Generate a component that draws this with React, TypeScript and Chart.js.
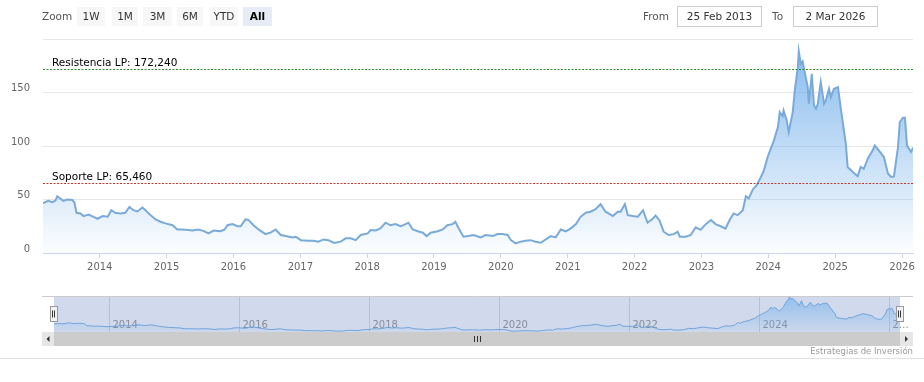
import React, { useEffect, useRef } from 'react';
import { Chart, registerables } from 'chart.js';

Chart.register(...registerables);

// ---- data ----
const dates: string[] = [
  '2013-02-25','2013-03-26','2013-04-17','2013-05-04','2013-05-14','2013-05-30','2013-06-16','2013-07-08','2013-08-05','2013-08-16',
  '2013-08-27','2013-09-18','2013-10-04','2013-11-01','2013-11-28','2013-12-20','2014-01-17','2014-02-14','2014-03-05','2014-03-27',
  '2014-04-24','2014-05-21','2014-06-12','2014-07-04','2014-07-25','2014-08-22','2014-09-08','2014-10-05','2014-11-02','2014-11-29',
  '2014-12-26','2015-02-03','2015-03-01','2015-03-28','2015-04-30','2015-05-22','2015-06-24','2015-07-21','2015-08-18','2015-09-15',
  '2015-10-23','2015-11-14','2015-11-30','2015-12-27','2016-01-24','2016-02-10','2016-03-07','2016-03-23','2016-04-20','2016-05-17',
  '2016-06-25','2016-07-22','2016-08-19','2016-09-16','2016-10-13','2016-11-20','2016-12-07','2017-01-04','2017-02-11','2017-03-13',
  '2017-04-10','2017-05-07','2017-06-04','2017-07-01','2017-07-12','2017-08-09','2017-09-06','2017-10-03','2017-10-30','2017-11-27',
  '2018-01-04','2018-01-20','2018-02-17','2018-03-14','2018-04-11','2018-05-08','2018-06-05','2018-07-02','2018-07-18','2018-08-15',
  '2018-09-07','2018-10-04','2018-11-01','2018-11-22','2018-12-14','2019-01-21','2019-02-18','2019-03-15','2019-04-12','2019-04-28',
  '2019-05-14','2019-06-11','2019-07-08','2019-08-05','2019-09-02','2019-09-13','2019-10-10','2019-11-18','2019-12-14','2020-01-11',
  '2020-02-08','2020-02-25','2020-03-22','2020-04-19','2020-05-15','2020-06-12','2020-07-09','2020-08-06','2020-09-03','2020-09-30',
  '2020-10-27','2020-11-24','2020-12-21','2021-01-18','2021-02-15','2021-03-12','2021-04-09','2021-05-05','2021-06-02','2021-06-29',
  '2021-07-26','2021-08-12','2021-09-04','2021-10-01','2021-10-17','2021-11-09','2021-11-25','2021-12-22','2022-01-19','2022-02-16',
  '2022-03-13','2022-04-10','2022-04-26','2022-05-17','2022-06-09','2022-07-06','2022-08-03','2022-08-24','2022-09-05','2022-10-08',
  '2022-11-04','2022-12-01','2022-12-28','2023-01-25','2023-02-22','2023-03-19','2023-04-16','2023-05-13','2023-06-04','2023-06-26',
  '2023-07-18','2023-08-15','2023-09-01','2023-09-17','2023-10-09','2023-10-30','2023-11-22','2023-12-08','2023-12-29','2024-01-15',
  '2024-02-01','2024-02-23','2024-03-04','2024-03-20','2024-03-25','2024-04-11','2024-04-22','2024-05-14','2024-05-25','2024-06-11',
  '2024-06-16','2024-06-27','2024-07-07','2024-07-13','2024-08-04','2024-08-10','2024-08-26','2024-09-07','2024-09-18','2024-09-28',
  '2024-10-14','2024-11-01','2024-11-11','2024-11-28','2024-12-08','2024-12-25','2025-01-16','2025-02-02','2025-02-28','2025-03-10',
  '2025-04-07','2025-05-04','2025-05-20','2025-06-06','2025-06-28','2025-07-25','2025-08-05','2025-08-27','2025-09-24','2025-10-16',
  '2025-11-02','2025-11-18','2025-12-10','2025-12-20','2026-01-06','2026-01-17','2026-01-28','2026-02-08','2026-02-19','2026-03-02',
];

const prices: number[] = [
  46.6, 48.7, 47.5, 49, 53, 51, 48.7, 50, 49.5, 47,
  37.6, 37, 34.5, 36, 33.8, 32, 34.5, 34, 40, 37.6,
  37, 37.6, 43, 40, 38.8, 42.5, 40, 35.4, 31.4, 29.2,
  27.7, 26, 22, 22, 21.4, 21, 22, 20.7, 18.3, 21,
  20.3, 22, 26, 27, 25, 25, 31.4, 31, 26, 22,
  17.7, 19, 22, 16.8, 15.8, 14.6, 15.2, 12, 11.5, 11.5,
  10.6, 12.7, 12, 9.6, 9.6, 10.6, 13.7, 13.7, 12, 16.8,
  18.3, 21.4, 21, 23, 28.3, 26, 27, 25, 26, 28.3,
  22, 20.3, 19, 15.8, 19, 20.3, 22, 26, 27, 29.2,
  23.6, 15.2, 15.8, 16.8, 15.2, 14.6, 16.8, 15.8, 17.7, 17.7,
  16.8, 12, 9, 10.6, 11.5, 12, 10.6, 9.6, 12.7, 15.8,
  14.6, 22, 20.3, 23, 27, 33.8, 37.6, 38.6, 41, 45.7,
  38.6, 37, 34.5, 38.6, 38.6, 45.7, 35.4, 34.5, 34, 40,
  28.3, 32, 35, 30.4, 19.9, 16.8, 17.6, 19.9, 15.2, 15.2,
  16.8, 24, 21.7, 27, 30.8, 27, 25, 22.7, 30.8, 37,
  35.4, 40, 53, 51, 59.4, 63.4, 71, 77, 89.7, 97.5,
  105, 117.7, 131.7, 128, 133, 124, 113, 131.7, 152, 173.6,
  188.5, 176.8, 179, 173.6, 155, 139.5, 167.5, 138, 134.8, 139.5,
  159.7, 139.5, 142.6, 153.5, 145.7, 153.5, 155, 133.3, 102, 80.4,
  75.8, 71.8, 80.4, 78.7, 88.2, 96, 100.6, 96, 89.7, 74.3,
  71, 71.5, 99, 122.4, 126.5, 126.5, 100.6, 97.5, 94.4, 98.5,
];

const yTicks: number[] = [0, 50, 100, 150, 200];
const yearTicks: number[] = [2014, 2015, 2016, 2017, 2018, 2019, 2020, 2021, 2022, 2023, 2024, 2025, 2026];
const navYears: number[] = [2014, 2016, 2018, 2020, 2022, 2024, 2026];
const navLabels: string[] = ['2014', '2016', '2018', '2020', '2022', '2024', '2\u2026'];

const resistanceValue = 172.24;
const resistanceLabel = 'Resistencia LP: 172,240';
const supportValue = 65.46;
const supportLabel = 'Soporte LP: 65,460';

const zoomButtons: string[] = ['1W', '1M', '3M', '6M', 'YTD', 'All'];
const fromText = '25 Feb 2013';
const toText = '2 Mar 2026';
const creditsText = 'Estrategias de Inversi\u00f3n';

const startDate = '2013-02-25';
const endDate = '2026-03-02';

const FONT = '"DejaVu Sans", Verdana, sans-serif';

function areaGradient(ctx: any, top: number, bottom: number) {
  const chart = ctx.chart;
  const ca = chart.chartArea;
  if (!ca) return 'rgba(124,181,236,0.3)';
  const g = chart.ctx.createLinearGradient(0, ca.top, 0, ca.bottom);
  g.addColorStop(0, `rgba(124,181,236,${top})`);
  g.addColorStop(1, `rgba(124,181,236,${bottom})`);
  return g;
}

const plotLinesPlugin = {
  id: 'plotLines',
  afterDatasetsDraw(chart: any) {
    const { ctx, chartArea: ca, scales } = chart;
    const lines: [number, string, string][] = [
      [resistanceValue, resistanceLabel, '#2e8b2e'],
      [supportValue, supportLabel, '#c0392b'],
    ];
    lines.forEach(([v, label, color]) => {
      const py = Math.round(scales.y.getPixelForValue(v)) + 0.5;
      ctx.save();
      ctx.strokeStyle = color;
      ctx.lineWidth = 1;
      ctx.setLineDash([2, 1.5]);
      ctx.beginPath();
      ctx.moveTo(ca.left, py);
      ctx.lineTo(ca.right, py);
      ctx.stroke();
      ctx.setLineDash([]);
      ctx.fillStyle = '#000';
      ctx.font = `10.5px ${FONT}`;
      ctx.textBaseline = 'alphabetic';
      ctx.textAlign = 'left';
      ctx.fillText(label, ca.left + 9, py - 3.5);
      ctx.restore();
    });
  },
};

const navPlugin = {
  id: 'navDecor',
  beforeDatasetsDraw(chart: any) {
    const { ctx, chartArea: ca, scales } = chart;
    ctx.save();
    ctx.fillStyle = 'rgba(102,133,194,0.3)';
    ctx.fillRect(ca.left, ca.top, ca.right - ca.left, ca.bottom - ca.top);
    ctx.strokeStyle = 'rgba(60,70,100,0.18)';
    ctx.lineWidth = 1;
    ctx.font = `10px ${FONT}`;
    ctx.fillStyle = '#858b99';
    ctx.textBaseline = 'alphabetic';
    navYears.forEach((yr, i) => {
      const px = Math.round(scales.x.getPixelForValue(Date.UTC(yr, 0, 1))) + 0.5;
      ctx.beginPath();
      ctx.moveTo(px, ca.top);
      ctx.lineTo(px, ca.bottom);
      ctx.stroke();
      ctx.fillText(navLabels[i], px + 3, ca.top + 32);
    });
    ctx.restore();
  },
  afterDraw(chart: any) {
    const { ctx, chartArea: ca } = chart;
    const outerL = ca.left - 12;
    const outerR = ca.right + 13;
    ctx.save();
    ctx.strokeStyle = '#cccccc';
    ctx.lineWidth = 1;
    ctx.beginPath();
    ctx.moveTo(outerL, ca.top + 0.5);
    ctx.lineTo(outerR, ca.top + 0.5);
    ctx.stroke();
    const sTop = ca.bottom;
    const sH = 14;
    ctx.fillStyle = '#f2f2f2';
    ctx.fillRect(outerL, sTop, outerR - outerL, sH);
    ctx.fillStyle = '#cccccc';
    ctx.fillRect(ca.left, sTop, ca.right - ca.left, sH);
    ctx.fillStyle = '#e6e6e6';
    ctx.fillRect(outerL, sTop, ca.left - outerL, sH);
    ctx.fillRect(ca.right, sTop, outerR - ca.right, sH);
    ctx.fillStyle = '#333';
    const midY = sTop + sH / 2;
    const lx = (outerL + ca.left) / 2;
    ctx.beginPath();
    ctx.moveTo(lx - 1.5, midY);
    ctx.lineTo(lx + 1.5, midY - 3);
    ctx.lineTo(lx + 1.5, midY + 3);
    ctx.closePath();
    ctx.fill();
    const rx = (ca.right + outerR) / 2;
    ctx.beginPath();
    ctx.moveTo(rx + 1.5, midY);
    ctx.lineTo(rx - 1.5, midY - 3);
    ctx.lineTo(rx - 1.5, midY + 3);
    ctx.closePath();
    ctx.fill();
    const gx = Math.round((ca.left + ca.right) / 2);
    ctx.strokeStyle = '#333';
    [-3, 0, 3].forEach((d) => {
      ctx.beginPath();
      ctx.moveTo(gx + d + 0.5, midY - 3);
      ctx.lineTo(gx + d + 0.5, midY + 3);
      ctx.stroke();
    });
    const hMid = (ca.top + ca.bottom) / 2;
    [ca.left, ca.right].forEach((hx) => {
      const x0 = Math.round(hx) - 3.5;
      const y0 = Math.round(hMid) - 7.5;
      ctx.fillStyle = '#f2f2f2';
      ctx.fillRect(x0, y0, 7, 15);
      ctx.strokeStyle = '#999999';
      ctx.strokeRect(x0, y0, 7, 15);
      ctx.strokeStyle = '#333';
      [2, 4].forEach((d) => {
        ctx.beginPath();
        ctx.moveTo(x0 + d, y0 + 4);
        ctx.lineTo(x0 + d, y0 + 11);
        ctx.stroke();
      });
    });
    ctx.fillStyle = '#999999';
    ctx.font = `8.5px ${FONT}`;
    ctx.textAlign = 'right';
    ctx.textBaseline = 'alphabetic';
    ctx.fillText(creditsText, outerR, sTop + sH + 8);
    ctx.restore();
  },
};

export default function App() {
  const mainRef = useRef<HTMLCanvasElement>(null);
  const navRef = useRef<HTMLCanvasElement>(null);

  useEffect(() => {
    const xMin = Date.parse(startDate);
    const xMax = Date.parse(endDate);
    const points = dates.map((d, i) => ({ x: Date.parse(d), y: prices[i] }));
    const navPoints = dates.map((d, i) => ({ x: Date.parse(d), y: prices[i] }));

    const main = new Chart(mainRef.current as HTMLCanvasElement, {
      type: 'line',
      data: {
        datasets: [
          {
            data: points,
            borderColor: '#7aaad9',
            borderWidth: 2,
            pointRadius: 0,
            tension: 0,
            fill: 'origin',
            backgroundColor: (ctx: any) => areaGradient(ctx, 0.95, 0.02),
          },
        ],
      },
      options: {
        animation: false,
        responsive: false,
        maintainAspectRatio: false,
        layout: { padding: { top: 39, right: 11, left: 0, bottom: 0 } },
        plugins: { legend: { display: false }, tooltip: { enabled: false } },
        scales: {
          x: {
            type: 'linear',
            min: xMin,
            max: xMax,
            afterBuildTicks: (s: any) => {
              s.ticks = yearTicks.map((y) => ({ value: Date.UTC(y, 0, 1) }));
            },
            afterFit: (s: any) => {
              s.height = 37;
            },
            ticks: {
              callback: (v: any) => String(new Date(v).getUTCFullYear()),
              font: { family: FONT, size: 10 },
              color: '#666666',
              padding: 3,
              maxRotation: 0,
              autoSkip: false,
            },
            grid: { drawOnChartArea: false, drawTicks: true, tickLength: 5, color: '#ccd6eb' },
            border: { display: true, color: '#ccd6eb' },
          },
          y: {
            min: 0,
            max: 200,
            afterBuildTicks: (s: any) => {
              s.ticks = yTicks.map((v) => ({ value: v }));
            },
            afterFit: (s: any) => {
              s.width = 43;
            },
            ticks: {
              callback: (v: any) => (v === 200 ? '' : String(v)),
              font: { family: FONT, size: 10 },
              color: '#666666',
              padding: 13,
              labelOffset: -4,
            },
            grid: { color: '#e6e6e6', drawTicks: false },
            border: { display: false },
          },
        },
      },
      plugins: [plotLinesPlugin],
    } as any);

    const nav = new Chart(navRef.current as HTMLCanvasElement, {
      type: 'line',
      data: {
        datasets: [
          {
            data: navPoints,
            borderColor: '#6fa3d8',
            borderWidth: 1,
            pointRadius: 0,
            tension: 0,
            fill: 'start',
            backgroundColor: (ctx: any) => areaGradient(ctx, 0.75, 0.05),
          },
        ],
      },
      options: {
        animation: false,
        responsive: false,
        maintainAspectRatio: false,
        layout: { padding: { top: 6, right: 24, left: 54, bottom: 28 } },
        plugins: { legend: { display: false }, tooltip: { enabled: false } },
        scales: {
          x: { type: 'linear', min: xMin, max: xMax, display: false },
          y: { min: 5, max: 192, display: false },
        },
      },
      plugins: [navPlugin],
    } as any);

    return () => {
      main.destroy();
      nav.destroy();
    };
  }, []);

  const btnLefts = [77, 112, 143, 177, 210, 243];
  const btnWidths = [28, 26, 29, 26, 28, 29];

  return (
    <div
      style={{
        position: 'fixed',
        left: 0,
        top: 0,
        width: 924,
        height: 382,
        background: '#ffffff',
        fontFamily: FONT,
        overflow: 'hidden',
      }}
    >
      <canvas ref={mainRef} width={924} height={290} style={{ position: 'absolute', left: 0, top: 0, width: 924, height: 290 }} />
      <canvas ref={navRef} width={924} height={70} style={{ position: 'absolute', left: 0, top: 290, width: 924, height: 70 }} />
      <div style={{ position: 'absolute', left: 42, top: 7, height: 19, lineHeight: '19px', fontSize: 10.5, color: '#555' }}>Zoom</div>
      {zoomButtons.map((b, i) => (
        <div
          key={b}
          style={{
            position: 'absolute',
            left: btnLefts[i],
            top: 7,
            width: btnWidths[i],
            height: 19,
            lineHeight: '19px',
            textAlign: 'center',
            fontSize: 10.5,
            background: b === 'All' ? '#e6ebf5' : '#f7f7f7',
            color: b === 'All' ? '#000' : '#333',
            fontWeight: b === 'All' ? 'bold' : 'normal',
          }}
        >
          {b}
        </div>
      ))}
      <div style={{ position: 'absolute', left: 643, top: 6, height: 21, lineHeight: '21px', fontSize: 10.5, color: '#555' }}>From</div>
      <div
        style={{
          position: 'absolute',
          left: 677,
          top: 6,
          width: 83,
          height: 19,
          lineHeight: '19px',
          border: '1px solid #cccccc',
          textAlign: 'center',
          fontSize: 10.5,
          color: '#333',
        }}
      >
        {fromText}
      </div>
      <div style={{ position: 'absolute', left: 772, top: 6, height: 21, lineHeight: '21px', fontSize: 10.5, color: '#555' }}>To</div>
      <div
        style={{
          position: 'absolute',
          left: 793,
          top: 6,
          width: 83,
          height: 19,
          lineHeight: '19px',
          border: '1px solid #cccccc',
          textAlign: 'center',
          fontSize: 10.5,
          color: '#333',
        }}
      >
        {toText}
      </div>
      <div style={{ position: 'absolute', left: 0, top: 358, width: 924, height: 1, background: '#e2e2e2' }} />
    </div>
  );
}
